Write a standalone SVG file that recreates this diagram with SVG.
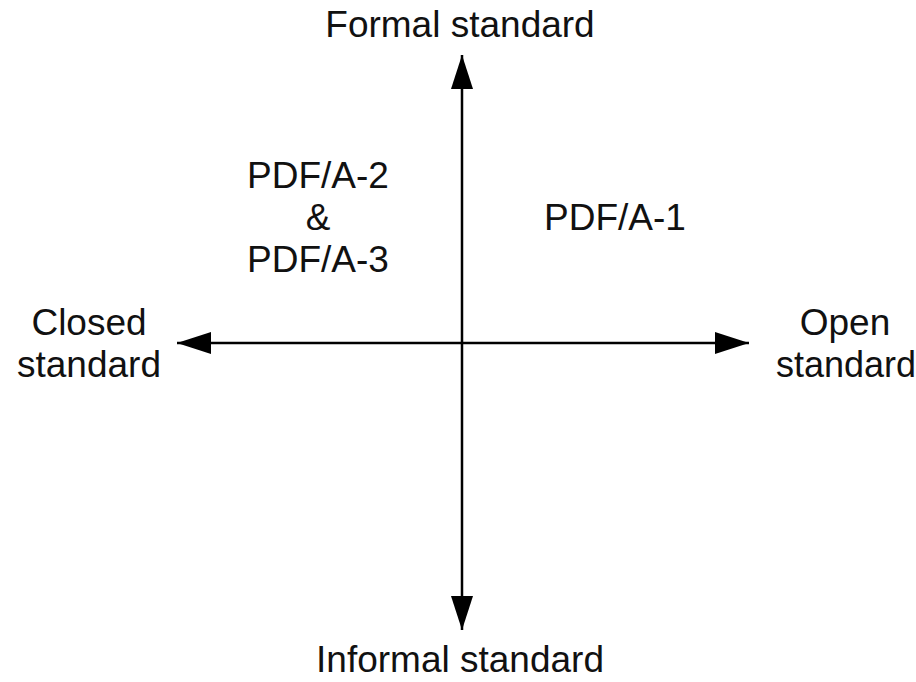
<svg xmlns="http://www.w3.org/2000/svg" width="916" height="682" viewBox="0 0 916 682">
<style>
text{font-family:"Liberation Sans",Arial,sans-serif;font-size:37px;fill:#111;text-anchor:middle}
.ax{stroke:#000;stroke-width:2.5;fill:none}
</style>
<defs>
<marker id="ah" viewBox="0 0 34 22" refX="34" refY="11" markerWidth="34" markerHeight="22" markerUnits="userSpaceOnUse" orient="auto-start-reverse">
<path d="M0,0 L34,11 L0,22 Z" fill="#000"/>
</marker>
</defs>
<rect width="916" height="682" fill="#fff"/>
<g id="connectors">
<line class="ax" x1="462" y1="630" x2="462" y2="55" marker-start="url(#ah)" marker-end="url(#ah)"/>
<line class="ax" x1="177" y1="343" x2="749" y2="343" marker-start="url(#ah)" marker-end="url(#ah)"/>
</g>
<g id="formal"><text x="460" y="37">Formal standard</text></g>
<g id="informal"><text x="460" y="672">Informal standard</text></g>
<g id="closed"><text x="89" y="335">Closed</text><text x="89" y="377">standard</text></g>
<g id="open"><text x="845" y="335">Open</text><text x="846" y="377" style="font-size:36px">standard</text></g>
<g id="pdfa23"><text x="318" y="188">PDF/A-2</text><text x="318" y="230">&amp;</text><text x="318" y="272">PDF/A-3</text></g>
<g id="pdfa1"><text x="615" y="230">PDF/A-1</text></g>
</svg>
